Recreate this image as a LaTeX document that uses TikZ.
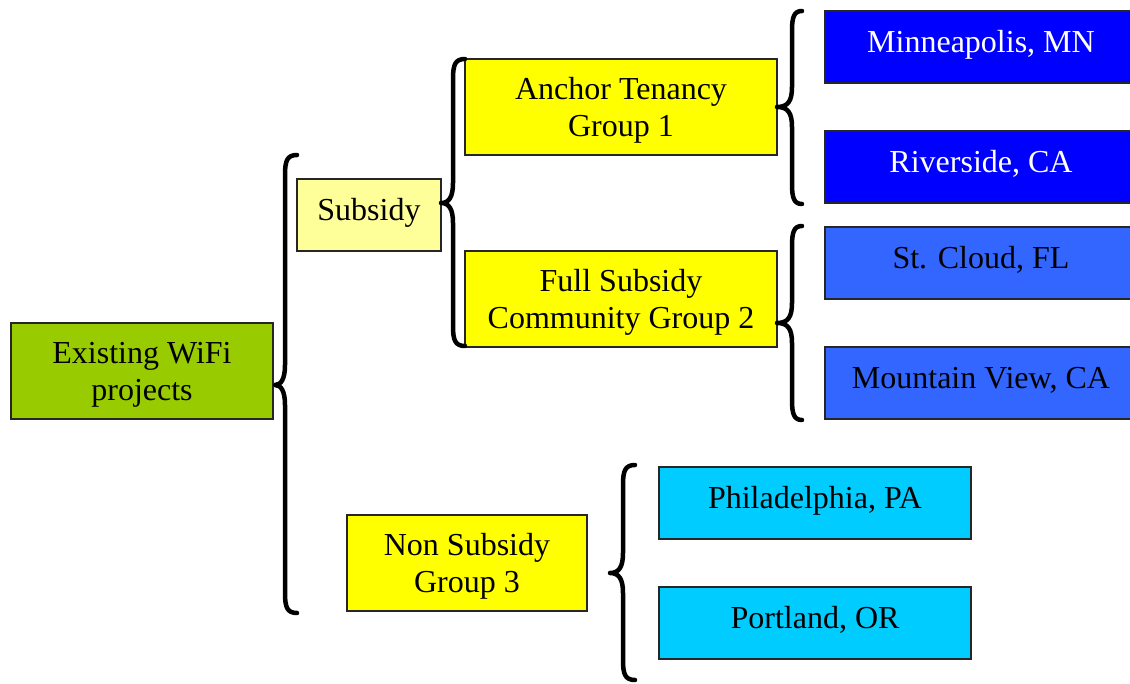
\documentclass[tikz,border=0pt]{standalone}
\usepackage{fontspec}
\setmainfont{Liberation Serif}
\definecolor{cgreen}{HTML}{99CC00}
\definecolor{clyellow}{HTML}{FFFF99}
\definecolor{cyellow}{HTML}{FFFF00}
\definecolor{cblue}{HTML}{0000FF}
\definecolor{cmblue}{HTML}{3366FF}
\definecolor{ccyan}{HTML}{00CCFF}
\newcommand\mybrace[6]{% #1 tip x, #2 mid y, #3 vertical x, #4 hook x, #5 top y, #6 bottom y
  \draw[brc] (#4,#5) .. controls (#3+2,#5) and (#3,#5+6) .. (#3,#5+20) -- (#3,#2-20)
    .. controls (#3,#2-6) and (#3-4,#2) .. (#1,#2) .. controls (#3-4,#2) and (#3,#2+6) .. (#3,#2+20)
    -- (#3,#6-20) .. controls (#3,#6-6) and (#3+2,#6) .. (#4,#6);}
\begin{document}
\begin{tikzpicture}[x=1pt,y=-1pt,
  box/.style={draw=black!85, line width=1.2pt, inner sep=0pt, align=center,
    font=\fontsize{32}{37}\selectfont},
  one/.style={text height=22pt, text depth=11pt},
  two/.style={text depth=-1pt},
  wide/.style={minimum width=312pt},
  tall/.style={minimum height=96pt},
  short/.style={minimum height=72pt},
  brc/.style={line width=4.5pt, line cap=round, line join=round}]
\useasboundingbox (0,0) rectangle (1130,684);
\clip (0,0) rectangle (1130,684);
\node[box, two, fill=cgreen, minimum width=262pt, tall] (exist) at (142,371) {Existing WiFi\\projects};
\node[box, one, fill=clyellow, minimum width=144pt, short] (subsidy) at (369,215) {Subsidy};
\node[box, two, fill=cyellow, wide, tall] (anchor) at (621,107) {Anchor Tenancy\\Group 1};
\node[box, two, fill=cyellow, wide, tall] (full) at (621,299) {Full Subsidy\\Community Group 2};
\node[box, two, fill=cyellow, minimum width=240pt, tall] (non) at (467,563) {Non Subsidy\\Group 3};
\node[box, one, fill=cblue, text=white, wide, short] (mn) at (981,47) {Minneapolis, MN};
\node[box, one, fill=cblue, text=white, wide, short] (riv) at (981,167) {Riverside, CA};
\node[box, one, fill=cmblue, wide, short] (stc) at (981,263) {St. Cloud, FL};
\node[box, one, fill=cmblue, wide, short] (mv) at (981,383) {Mountain View, CA};
\node[box, one, fill=ccyan, wide, short] (phl) at (815,503) {Philadelphia, PA};
\node[box, one, fill=ccyan, wide, short] (por) at (815,623) {Portland, OR};
\mybrace{275}{385}{285}{297}{155}{613}
\mybrace{441}{203}{453}{465}{59}{346}
\mybrace{777}{107}{792}{802}{11}{204}
\mybrace{777}{323}{792}{802}{226}{420}
\mybrace{610}{573}{623}{635}{465}{680}
\end{tikzpicture}
\end{document}
